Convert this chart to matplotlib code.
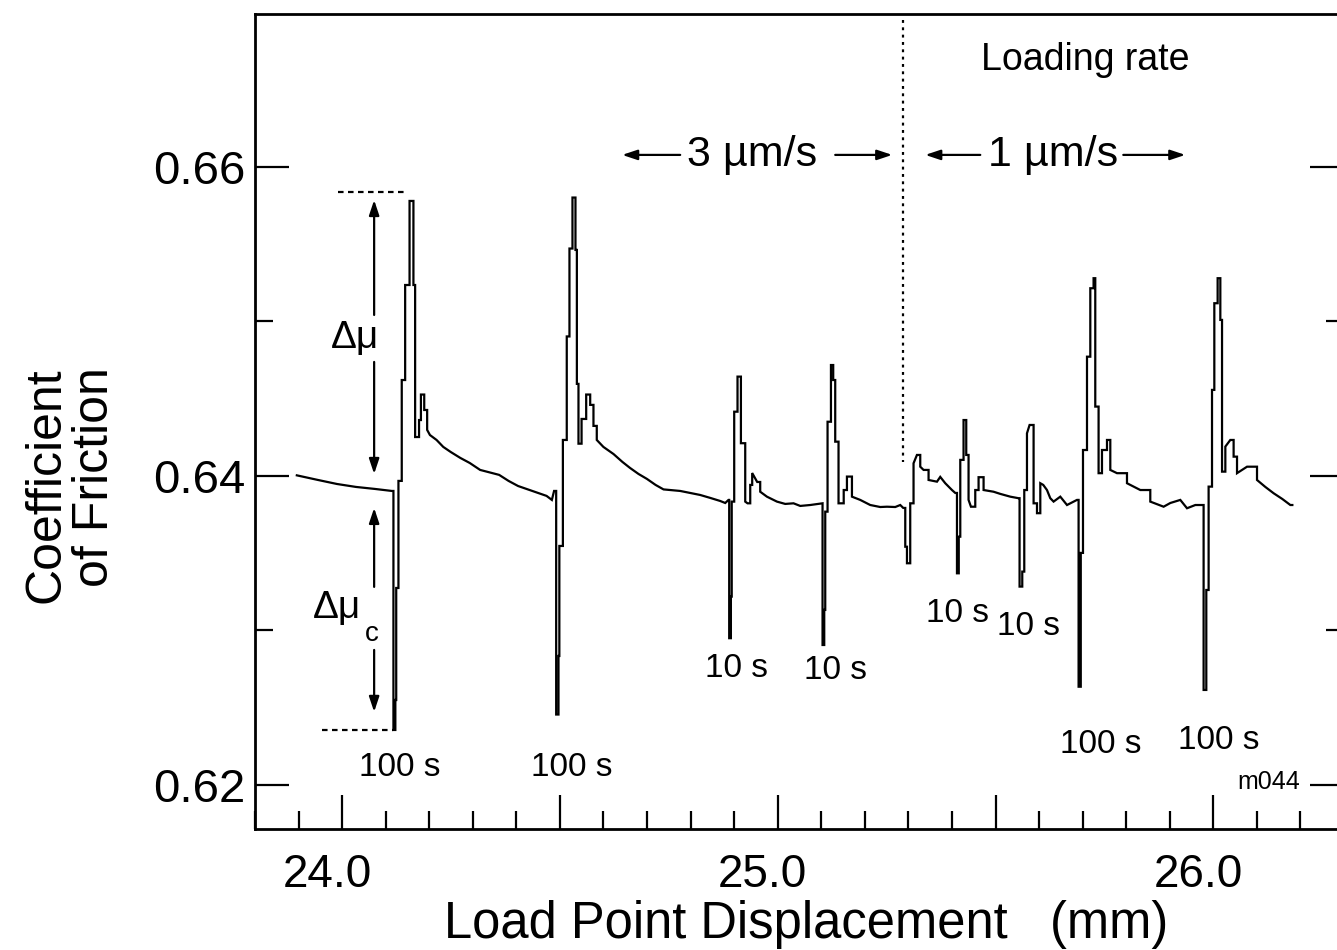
import matplotlib
matplotlib.use("Agg")
import matplotlib.pyplot as plt
from matplotlib.ticker import FixedLocator, FixedFormatter, MultipleLocator
from matplotlib.transforms import ScaledTranslation

plt.rcParams['font.family'] = ['Liberation Sans', 'DejaVu Sans']

# ---- data (load-point displacement in mm, friction coefficient) ----
disp = [23.8960, 23.9447, 23.9883, 24.0317, 24.0753, 24.1141,
        24.1178, 24.1222, 24.1242, 24.1293, 24.1369, 24.1447, 24.1548, 24.1637, 24.1676,
        24.1766, 24.1809, 24.1885, 24.1952, 24.2016, 24.2168, 24.2322, 24.2494, 24.2712,
        24.2930, 24.3169, 24.3605, 24.3821, 24.4039, 24.4365, 24.4693, 24.4815, 24.4866,
        24.4914, 24.4967, 24.4987, 24.5068, 24.5157, 24.5219, 24.5288, 24.5357, 24.5389,
        24.5426, 24.5497, 24.5603, 24.5695, 24.5770, 24.5846, 24.5998, 24.6230, 24.6434,
        24.6609, 24.6804, 24.6997, 24.7196, 24.7378, 24.7761, 24.8220, 24.8450, 24.8680,
        24.8795, 24.8870,
        24.8886, 24.8925, 24.8944, 24.9001, 24.9077, 24.9155, 24.9254, 24.9307, 24.9369,
        24.9414, 24.9529, 24.9598, 24.9752, 24.9982, 25.0172, 25.0363, 25.0517, 25.0746,
        25.1015,
        25.1029, 25.1068, 25.1091, 25.1144, 25.1222, 25.1274, 25.1320, 25.1396, 25.1515,
        25.1589, 25.1704, 25.1894, 25.2124, 25.2354, 25.2507, 25.2698, 25.2813, 25.2882,
        25.2928, 25.2967, 25.3042, 25.3118, 25.3196, 25.3272, 25.3348, 25.3463, 25.3656,
        25.3731, 25.3846, 25.4000, 25.4076,
        25.4115, 25.4156, 25.4191, 25.4266, 25.4328, 25.4381, 25.4436, 25.4535, 25.4611,
        25.4726, 25.4955, 25.5109, 25.5339, 25.5529,
        25.5552, 25.5614, 25.5660, 25.5722, 25.5782, 25.5874, 25.5952, 25.6028, 25.6096,
        25.6181, 25.6257, 25.6333, 25.6487, 25.6641, 25.6870,
        25.6907, 25.6957, 25.7008, 25.7100, 25.7176, 25.7251, 25.7290, 25.7366, 25.7444,
        25.7559, 25.7635, 25.7789, 25.8018, 25.8324, 25.8553, 25.8859, 25.9013, 25.9242,
        25.9396, 25.9587, 25.9740,
        25.9777, 25.9839, 25.9892, 25.9970, 26.0023, 26.0099, 26.0161, 26.0200, 26.0276,
        26.0390, 26.0466, 26.0544, 26.0774, 26.1003, 26.1194, 26.1385, 26.1584, 26.1768,
        26.1814]

friction = [0.64004, 0.63974, 0.63948, 0.63929, 0.63916, 0.63903,
            0.62356, 0.62550, 0.63275, 0.63968, 0.64621, 0.65236, 0.65780, 0.65236, 0.64252,
            0.64362, 0.64527, 0.64427, 0.64298, 0.64265, 0.64233, 0.64188, 0.64155, 0.64117,
            0.64084, 0.64039, 0.64007, 0.63968, 0.63935, 0.63903, 0.63871, 0.63845, 0.63903,
            0.62456, 0.62835, 0.63547, 0.64233, 0.64903, 0.65472, 0.65802, 0.65463, 0.64596,
            0.64209, 0.64369, 0.64527, 0.64460, 0.64324, 0.64233, 0.64188, 0.64142, 0.64091,
            0.64052, 0.64013, 0.63981, 0.63942, 0.63913, 0.63903, 0.63877, 0.63858, 0.63838,
            0.63825, 0.63845,
            0.62950, 0.63219, 0.63834, 0.64416, 0.64643, 0.64212, 0.63834, 0.63823, 0.63942,
            0.64019, 0.63961, 0.63898, 0.63866, 0.63834, 0.63819, 0.63823, 0.63806, 0.63812,
            0.63823,
            0.62906, 0.63133, 0.63769, 0.64351, 0.64718, 0.64621, 0.64222, 0.63823, 0.63909,
            0.63996, 0.63866, 0.63845, 0.63812, 0.63799, 0.63801, 0.63799, 0.63812, 0.63793,
            0.63542, 0.63435, 0.63823, 0.64082, 0.64136, 0.64060, 0.64039, 0.63974, 0.63963,
            0.63994, 0.63953, 0.63909, 0.63890,
            0.63370, 0.63607, 0.64104, 0.64362, 0.64136, 0.63845, 0.63801, 0.63909, 0.63992,
            0.63909, 0.63898, 0.63884, 0.63866, 0.63856,
            0.63284, 0.63381, 0.63909, 0.64276, 0.64330, 0.63823, 0.63759, 0.63953, 0.63942,
            0.63909, 0.63856, 0.63834, 0.63866, 0.63812, 0.63845,
            0.62636, 0.63502, 0.64168, 0.64772, 0.65215, 0.65280, 0.64449, 0.64018, 0.64168,
            0.64233, 0.64039, 0.64018, 0.63953, 0.63909, 0.63834, 0.63801, 0.63825, 0.63845,
            0.63791, 0.63812, 0.63812,
            0.62615, 0.63262, 0.63931, 0.64557, 0.65118, 0.65280, 0.65010, 0.64028, 0.64190,
            0.64233, 0.64125, 0.64018, 0.64060, 0.63974, 0.63929, 0.63888, 0.63851, 0.63812,
            0.63812]

# hold-time labels: (text, displacement, friction)
hold_labels = ["100 s", "100 s", "10 s", "10 s", "10 s", "10 s", "100 s", "100 s"]
hold_x = [24.1332, 24.5281, 24.9047, 25.1320, 25.4122, 25.5752, 25.7405, 26.0115]
hold_y = [0.62110, 0.62110, 0.62757, 0.62744, 0.63113, 0.63023, 0.62259, 0.62291]

rate_change = 25.2882          # loading-rate change (dotted line)
rate_labels = ["3 \u00b5m/s", "1 \u00b5m/s"]
rate_label_x = [24.9414, 25.6326]
rate_arrow_tails = [(24.7761, 25.1320), (25.4650, 25.7933)]
rate_arrow_tips = [(24.6429, 25.2629), (25.3387, 25.9357)]

x_major = [24.0, 24.5, 25.0, 25.5, 26.0]
x_major_labels = ["24.0", "", "25.0", "", "26.0"]
y_major = [0.62, 0.64, 0.66]
y_major_labels = ["0.62", "0.64", "0.66"]

# delta-mu construction for the first 100 s hold
dmu_peak = 0.65836
dmu_base_top = 0.64013
dmu_base_bot = 0.63793
dmu_min = 0.62356
dmu_x = 24.0735

# ---- build the drawn path: large jumps drawn as vertical steps, small changes as line ----
px, py = [disp[0]], [friction[0]]
for i in range(1, len(disp)):
    if abs(friction[i] - friction[i - 1]) > 0.0006:
        px.append(disp[i]); py.append(friction[i - 1])
    px.append(disp[i]); py.append(friction[i])

# ---- figure ----
fig = plt.figure(figsize=(13.37, 9.5), dpi=100)
ax = fig.add_axes([255 / 1337, 1 - 829 / 950, (1344 - 255) / 1337, (829 - 14) / 950])

ax.plot(px, py, color='black', lw=1.6, solid_joinstyle='miter')

ax.set_xlim(23.8, 26.3)
ax.set_ylim(0.61715, 0.6699)

for s in ax.spines.values():
    s.set_linewidth(2.0)

ax.xaxis.set_major_locator(FixedLocator(x_major))
ax.xaxis.set_major_formatter(FixedFormatter(x_major_labels))
ax.xaxis.set_minor_locator(MultipleLocator(0.1))
ax.yaxis.set_major_locator(FixedLocator(y_major))
ax.yaxis.set_major_formatter(FixedFormatter(y_major_labels))
ax.yaxis.set_minor_locator(MultipleLocator(0.01))

ax.tick_params(axis='both', which='both', direction='in', width=1.6, colors='black')
ax.tick_params(axis='y', which='both', left=True, right=True)
ax.tick_params(axis='x', which='both', bottom=True, top=False)
ax.tick_params(which='major', length=24.5)
ax.tick_params(which='minor', length=13)
ax.tick_params(axis='y', which='major', labelsize=34, pad=7)
ax.tick_params(axis='x', which='major', labelsize=33, pad=17)

shift = ScaledTranslation(-15 / 100, 0, fig.dpi_scale_trans)
for lab in ax.get_xticklabels():
    lab.set_transform(lab.get_transform() + shift)

# axis labels
fig.text(806 / 1337, 1 - 938 / 950, "Load Point Displacement   (mm)", fontsize=36.5,
         ha='center', va='baseline')
fig.text(47 / 1337, 1 - 485 / 950, "Coefficient", fontsize=36, rotation=90,
         ha='center', va='center')
fig.text(95 / 1337, 1 - 477 / 950, "of Friction", fontsize=36, rotation=90,
         ha='center', va='center')

# hold labels
for t, x, y in zip(hold_labels, hold_x, hold_y):
    ax.text(x, y, t, fontsize=24, ha='center', va='center')

ax.text(26.1263, 0.62019, "m044", fontsize=18, ha='center', va='center')

# loading rate
ax.plot([rate_change, rate_change], [0.66951, 0.64091], color='black', lw=1.6,
        linestyle=(0, (1.3, 2.0)))
ax.text(25.7061, 0.66693, "Loading rate", fontsize=27, ha='center', va='center')
arrow_y = 0.66078
for lab, lx in zip(rate_labels, rate_label_x):
    ax.text(lx, arrow_y, lab, fontsize=31, ha='center', va='center')
arr_kw = dict(arrowstyle='-|>,head_length=0.9,head_width=0.3', color='black', lw=1.6,
              shrinkA=0, shrinkB=0)
for tails, tips in zip(rate_arrow_tails, rate_arrow_tips):
    for t0, t1 in zip(tails, tips):
        ax.annotate('', xy=(t1, arrow_y), xytext=(t0, arrow_y), arrowprops=arr_kw)

# delta-mu construction
ax.plot([23.9908, 24.1520], [dmu_peak, dmu_peak], color='black', lw=1.6,
        linestyle=(0, (2.5, 2.0)))
ax.plot([23.9541, 24.1160], [dmu_min, dmu_min], color='black', lw=1.6,
        linestyle=(0, (2.5, 2.0)))
ak = dict(arrowstyle='-|>,head_length=0.9,head_width=0.3', color='black', lw=1.6,
          shrinkA=0, shrinkB=0)
ax.annotate('', xy=(dmu_x, 0.65786), xytext=(dmu_x, 0.65042), arrowprops=ak)
ax.annotate('', xy=(dmu_x, dmu_base_top), xytext=(dmu_x, 0.64738), arrowprops=ak)
ax.annotate('', xy=(dmu_x, dmu_base_bot), xytext=(dmu_x, 0.63282), arrowprops=ak)
ax.annotate('', xy=(dmu_x, 0.62473), xytext=(dmu_x, 0.62874), arrowprops=ak)
ax.text(24.0299, 0.64893, "\u0394\u03bc", fontsize=28, ha='center', va='center')
ax.text(23.9885, 0.63146, "\u0394\u03bc", fontsize=28, ha='center', va='center')
ax.text(24.0689, 0.62978, "c", fontsize=20, ha='center', va='center')

fig.savefig("out.png", dpi=100)
